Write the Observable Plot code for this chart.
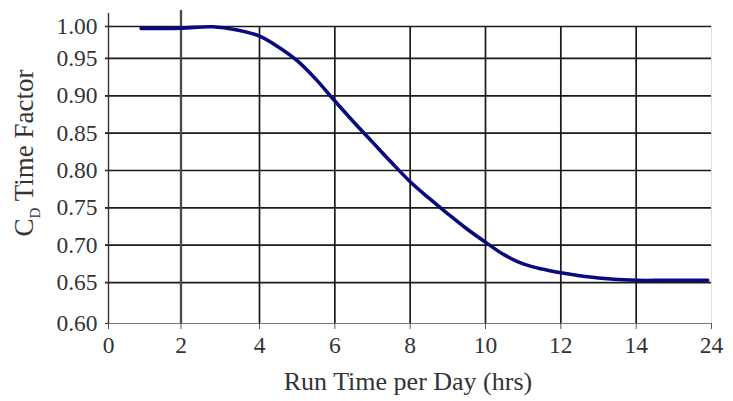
<!DOCTYPE html>
<html>
<head>
<meta charset="utf-8">
<script src="https://cdn.jsdelivr.net/npm/d3@7"></script>
<script src="https://cdn.jsdelivr.net/npm/@observablehq/plot@0.6"></script>
<style>
  html, body { margin: 0; padding: 0; background: #fff; }
  #chart svg { display: block; font-family: 'Liberation Serif', 'Times New Roman', serif; }
</style>
</head>
<body>
<div id="chart"></div>
<script>
// Tick labels on the x axis (evenly spaced, last one jumps to 24)
const xTickLabels = ["0", "2", "4", "6", "8", "10", "12", "14", "24"];
const yTicks = [0.60, 0.65, 0.70, 0.75, 0.80, 0.85, 0.90, 0.95, 1.00];

// Curve: run time (hrs) and CD time factor
const runHours = [0.9, 2, 2.8, 3.4, 4, 4.5, 5, 5.5, 6, 6.5, 7, 7.5, 8, 8.5, 9, 9.5, 10, 10.5, 11, 11.5, 12, 12.5, 13, 14, 18, 23.5];
const cdFactor = [0.997, 0.9975, 0.9995, 0.995, 0.985, 0.968, 0.947, 0.922, 0.893, 0.865, 0.838, 0.811, 0.785, 0.763, 0.742, 0.722, 0.704, 0.687, 0.675, 0.668, 0.663, 0.659, 0.656, 0.653, 0.653, 0.653];

// The original axes are printed with uneven spacing: map values onto axis positions
const hoursToSlot = h => h <= 14 ? h / 2 : 7 + (h - 14) / 10;       // tick slot 0..8
const slotToAxis = d3.scaleLinear().domain([0, 1, 2, 8]).range([0, 72.5, 151, 603]);
const cdToAxis = d3.scaleLinear().domain([0.6, 0.65, 0.95, 1.0]).range([0, 41, 265.3, 297.3]);

const curve = runHours.map((h, i) => ({x: slotToAxis(hoursToSlot(h)), y: cdToAxis(cdFactor[i])}));
const xSlots = xTickLabels.map((_, i) => i);
const xTickPos = xSlots.map(s => slotToAxis(s));
const yTickPos = yTicks.map(v => cdToAxis(v));
const xLabelAt = new Map(xTickPos.map((p, i) => [p, xTickLabels[i]]));
const yLabelAt = new Map(yTickPos.map((p, i) => [p, d3.format(".2f")(yTicks[i])]));

const X = s => slotToAxis(s);
const Y = v => cdToAxis(v);
const serif = "Liberation Serif";

const plot = Plot.plot({
  width: 733,
  height: 401,
  marginLeft: 108,
  marginRight: 22,
  marginTop: 26,
  marginBottom: 78,
  style: {background: "#fff", color: "#333", fontFamily: serif},
  x: {domain: [0, X(8)]},
  y: {domain: [0, Y(1.0)]},
  marks: [
    // horizontal grid
    Plot.ruleY(yTicks.filter(v => v > 0.6).map(Y), {x1: -3, x2: X(8), stroke: "#1a1a1a", strokeWidth: 1.7, clip: false}),
    // vertical grid
    Plot.ruleX(xSlots.filter(p => p > 1 && p < 8).map(X), {y1: 0, y2: Y(1.0), stroke: "#1a1a1a", strokeWidth: 1.7}),
    Plot.ruleX([X(1)], {y1: 0, y2: Y(1.0) + 16, stroke: "#4a4a4a", strokeWidth: 2.3, clip: false}),
    Plot.ruleX([X(8)], {y1: 0, y2: Y(1.0), stroke: "#ddd", strokeWidth: 1}),
    // axes lines
    Plot.ruleX([0], {y1: 0, y2: Y(1.0) + 13, stroke: "#333", strokeWidth: 1.4, clip: false}),
    Plot.ruleY([0], {x1: 0, x2: X(8), stroke: "#777", strokeWidth: 1.2}),
    Plot.axisY({ticks: yTickPos, tickFormat: p => yLabelAt.get(p), tickSize: 3, tickPadding: 8, stroke: "#333", fill: "#333", label: null, fontSize: 23.5, fontFamily: serif}),
    Plot.axisX({ticks: xTickPos, tickFormat: p => xLabelAt.get(p), tickSize: 6, tickPadding: 7, stroke: "#555", fill: "#333", label: null, fontSize: 23.5, fontFamily: serif}),
    // the curve
    Plot.line(curve, {x: "x", y: "y", curve: "catmull-rom", stroke: "#0a0a80", strokeWidth: 3.6})
  ]
});

document.getElementById("chart").appendChild(plot);

// axis titles as real text (y label needs a subscript)
const svg = d3.select(plot);
svg.append("text")
  .attr("x", 408)
  .attr("y", 390)
  .attr("text-anchor", "middle")
  .style("font-family", serif)
  .style("font-size", "26px")
  .attr("fill", "#333")
  .text("Run Time per Day (hrs)");

const yl = svg.append("text")
  .attr("transform", "translate(33,153) rotate(-90)")
  .attr("text-anchor", "middle")
  .style("font-family", serif)
  .style("font-size", "27px")
  .attr("fill", "#333");
yl.append("tspan").text("C");
yl.append("tspan").attr("dy", 7).style("font-size", "15px").text("D");
yl.append("tspan").attr("dy", -7).text(" Time Factor");
</script>
</body>
</html>
